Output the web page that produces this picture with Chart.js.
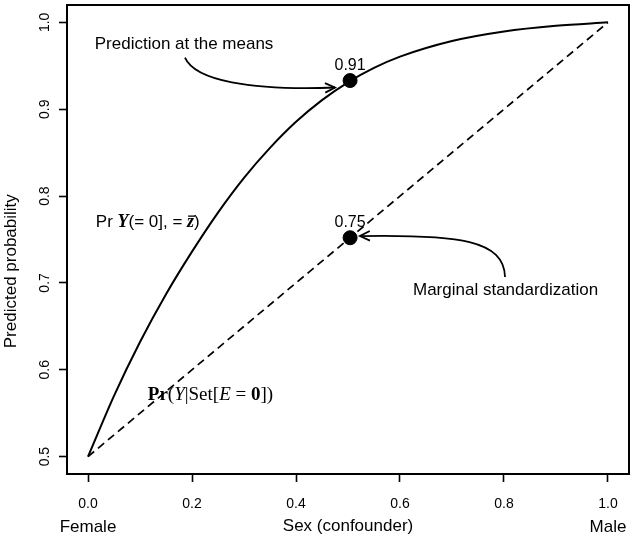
<!DOCTYPE html>
<html lang="en">
<head>
    <meta charset="UTF-8">
    <title>Predicted probability by sex</title>
    <script src="https://cdn.jsdelivr.net/npm/chart.js"></script>
    <style>
        body {
            margin: 0;
            background: #fff;
        }
    </style>
</head>
<body>

    <canvas id="probChart" width="633" height="539"></canvas>

    <script>
        // values
        const xTicks = [0, 0.2, 0.4, 0.6, 0.8, 1.0];
        const yTicks = [0.5, 0.6, 0.7, 0.8, 0.9, 1.0];
        const xEndValues = [0, 1];
        const xEndLabels = ['Female', 'Male'];

        const sexX = [0, 0.05, 0.1, 0.15, 0.2, 0.25, 0.3, 0.35, 0.4, 0.45, 0.5, 0.55, 0.6, 0.7, 0.8, 0.9, 1.0];
        const predAtMeans = [0.5, 0.57, 0.632, 0.687, 0.736, 0.781, 0.821, 0.8555, 0.8855, 0.9105, 0.931, 0.9475, 0.9605, 0.9785, 0.9895, 0.996, 1.0];

        const margX = [0, 1];
        const margStd = [0.5, 1.0];

        const markX = [0.504, 0.504];
        const markY = [0.933, 0.752];
        const markLabels = ['0.91', '0.75'];

        const SANS = '"Liberation Sans", Arial, sans-serif';
        const SERIF = '"Liberation Serif", "Times New Roman", serif';

        // annotation placement, in data units
        const notes = [
            { text: 'Prediction at the means', x: 0.013, y: 0.975 },
            { text: 'Marginal standardization', x: 0.625, y: 0.692 }
        ];
        const arrows = [
            { from: [0.1865, 0.9595], c1: [0.206, 0.933], c2: [0.3115, 0.9215], to: [0.475, 0.925] },
            { from: [0.802, 0.7068], c1: [0.8, 0.749], c2: [0.715, 0.756], to: [0.523, 0.754] }
        ];
        const mathLabels = [
            {
                x: 0.015, y: 0.770,
                parts: [
                    { t: 'Pr ', f: '17px ' + SANS },
                    { t: 'Y', f: 'bold italic 18px ' + SERIF },
                    { t: '(= 0], = ', f: '17px ' + SANS },
                    { t: 'z', f: 'bold italic 18px ' + SERIF, bar: true },
                    { t: ')', f: '17px ' + SANS }
                ]
            },
            {
                x: 0.115, y: 0.571,
                parts: [
                    { t: 'Pr', f: 'bold 19px ' + SERIF },
                    { t: '(', f: '19px ' + SERIF },
                    { t: 'Y', f: 'italic 19px ' + SERIF },
                    { t: '|Set[', f: '19px ' + SERIF },
                    { t: 'E', f: 'italic 19px ' + SERIF },
                    { t: ' = ', f: '19px ' + SERIF },
                    { t: '0', f: 'bold 19px ' + SERIF },
                    { t: '])', f: '19px ' + SERIF }
                ]
            }
        ];

        const toXY = (xs, ys) => xs.map((x, i) => ({ x: x, y: ys[i] }));

        const decor = {
            id: 'decor',
            afterDraw(chart) {
                const ctx = chart.ctx;
                const area = chart.chartArea;
                const sx = chart.scales.x;
                const sy = chart.scales.y;
                const px = v => sx.getPixelForValue(v);
                const py = v => sy.getPixelForValue(v);

                ctx.save();
                ctx.strokeStyle = '#000';
                ctx.fillStyle = '#000';

                // box around the plot
                ctx.lineWidth = 2;
                ctx.strokeRect(area.left, area.top, area.right - area.left, area.bottom - area.top);

                // y tick labels, rotated like R
                ctx.font = '14px ' + SANS;
                ctx.textAlign = 'center';
                ctx.textBaseline = 'middle';
                yTicks.forEach(v => {
                    ctx.save();
                    ctx.translate(area.left - 22, py(v));
                    ctx.rotate(-Math.PI / 2);
                    ctx.fillText(v.toFixed(1), 0, 0);
                    ctx.restore();
                });

                // y axis title
                ctx.font = '17px ' + SANS;
                ctx.save();
                ctx.translate(11, py(0.7135));
                ctx.rotate(-Math.PI / 2);
                ctx.fillText('Predicted probability', 0, 0);
                ctx.restore();

                // Female / Male under the end ticks
                xEndValues.forEach((v, i) => {
                    ctx.fillText(xEndLabels[i], px(v), 527);
                });

                // values over the two points
                ctx.font = '16px ' + SANS;
                ctx.textBaseline = 'alphabetic';
                markX.forEach((v, i) => {
                    ctx.fillText(markLabels[i], px(v), py(markY[i]) - 11);
                });

                // plain text notes
                ctx.font = '17px ' + SANS;
                ctx.textAlign = 'left';
                ctx.textBaseline = 'middle';
                notes.forEach(n => ctx.fillText(n.text, px(n.x), py(n.y)));

                // math labels
                mathLabels.forEach(m => {
                    let cx = px(m.x);
                    const cy = py(m.y);
                    m.parts.forEach(p => {
                        ctx.font = p.f;
                        const w = ctx.measureText(p.t).width;
                        ctx.fillText(p.t, cx, cy);
                        if (p.bar) {
                            ctx.lineWidth = 1.3;
                            ctx.beginPath();
                            ctx.moveTo(cx + 1, cy - 6);
                            ctx.lineTo(cx + w + 1, cy - 6);
                            ctx.stroke();
                        }
                        cx += w;
                    });
                });

                // curved arrows with open heads
                ctx.lineWidth = 1.8;
                arrows.forEach(a => {
                    const x0 = px(a.from[0]), y0 = py(a.from[1]);
                    const x1 = px(a.c1[0]), y1 = py(a.c1[1]);
                    const x2 = px(a.c2[0]), y2 = py(a.c2[1]);
                    const x3 = px(a.to[0]), y3 = py(a.to[1]);
                    ctx.beginPath();
                    ctx.moveTo(x0, y0);
                    ctx.bezierCurveTo(x1, y1, x2, y2, x3, y3);
                    ctx.stroke();
                    const ang = Math.atan2(y3 - y2, x3 - x2);
                    const len = 11;
                    ctx.beginPath();
                    ctx.moveTo(x3 - len * Math.cos(ang - 0.45), y3 - len * Math.sin(ang - 0.45));
                    ctx.lineTo(x3, y3);
                    ctx.lineTo(x3 - len * Math.cos(ang + 0.45), y3 - len * Math.sin(ang + 0.45));
                    ctx.stroke();
                });

                ctx.restore();
            }
        };

        new Chart(document.getElementById('probChart'), {
            type: 'scatter',
            data: {
                datasets: [
                    {
                        label: 'Prediction at the means',
                        data: toXY(sexX, predAtMeans),
                        showLine: true,
                        borderColor: '#000',
                        borderWidth: 2,
                        pointRadius: 0,
                        cubicInterpolationMode: 'monotone'
                    },
                    {
                        label: 'Marginal standardization',
                        data: toXY(margX, margStd),
                        showLine: true,
                        borderColor: '#000',
                        borderWidth: 1.7,
                        borderDash: [8, 5],
                        pointRadius: 0
                    },
                    {
                        label: 'Estimates',
                        data: toXY(markX, markY),
                        showLine: false,
                        pointRadius: 7,
                        pointBorderWidth: 1,
                        pointBackgroundColor: '#000',
                        pointBorderColor: '#000'
                    }
                ]
            },
            options: {
                responsive: false,
                animation: false,
                devicePixelRatio: 1,
                layout: {
                    autoPadding: false,
                    padding: { top: 5, right: 4, left: 0, bottom: 0 }
                },
                plugins: {
                    legend: { display: false },
                    tooltip: { enabled: false }
                },
                scales: {
                    x: {
                        type: 'linear',
                        min: -0.0404,
                        max: 1.0404,
                        afterBuildTicks: s => { s.ticks = xTicks.map(v => ({ value: v })); },
                        afterFit: s => { s.height = 65; },
                        ticks: {
                            callback: v => v.toFixed(1),
                            color: '#000',
                            font: { family: SANS, size: 14 },
                            padding: 14,
                            maxRotation: 0,
                            autoSkip: false
                        },
                        grid: {
                            drawOnChartArea: false,
                            tickLength: 8,
                            tickColor: '#000',
                            tickWidth: 1.6
                        },
                        border: { display: false },
                        title: {
                            display: true,
                            text: 'Sex (confounder)',
                            color: '#000',
                            font: { family: SANS, size: 17 },
                            padding: { top: 0, bottom: 2 }
                        }
                    },
                    y: {
                        type: 'linear',
                        min: 0.48,
                        max: 1.02,
                        afterBuildTicks: s => { s.ticks = yTicks.map(v => ({ value: v })); },
                        afterFit: s => { s.width = 67; },
                        ticks: { display: false },
                        grid: {
                            drawOnChartArea: false,
                            tickLength: 8,
                            tickColor: '#000',
                            tickWidth: 1.6
                        },
                        border: { display: false }
                    }
                }
            },
            plugins: [decor]
        });
    </script>
</body>
</html>
